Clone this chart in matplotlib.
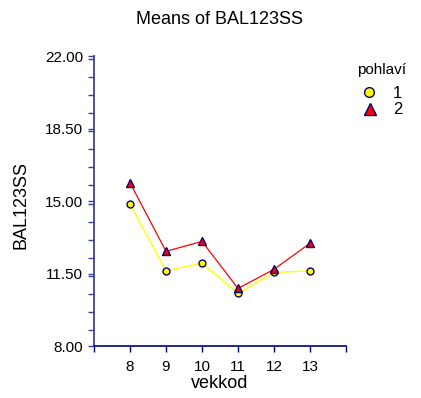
import matplotlib.pyplot as plt
from matplotlib.lines import Line2D
from matplotlib.ticker import MultipleLocator

plt.rcParams['font.family'] = ['Liberation Sans', 'DejaVu Sans']

# data
vekkod = [8, 9, 10, 11, 12, 13]
means_1 = [14.84, 11.63, 12.00, 10.54, 11.55, 11.63]
means_2 = [15.88, 12.57, 13.05, 10.78, 11.70, 12.96]
y_ticks = [8.00, 11.50, 15.00, 18.50, 22.00]
groups = ['1', '2']

W, H = 421, 398
axis_col = '#4040a0'
edge_col = '#000080'

fig = plt.figure(figsize=(W / 100, H / 100), dpi=100)
ax = fig.add_axes([94 / W, 52 / H, 252 / W, 290 / H])

ax.plot(vekkod, means_1, color='#ffff00', lw=1.0, marker='o', ms=5,
        mfc='#ffff00', mec=edge_col, mew=1, zorder=3)
ax.plot(vekkod, means_2, color='#ff0000', lw=0.9, marker='^', ms=6,
        mfc='#ff0000', mec=edge_col, mew=1, zorder=4)

ax.set_xlim(7, 14)
ax.set_ylim(8, 22)
ax.set_xticks(range(7, 15))
ax.set_xticklabels([''] + [str(v) for v in vekkod] + [''])
ax.set_yticks(y_ticks)
ax.set_yticklabels(['%.2f' % v for v in y_ticks])
ax.yaxis.set_minor_locator(MultipleLocator(0.875))

for s in ['top', 'right']:
    ax.spines[s].set_visible(False)
ax.spines['left'].set_color(axis_col)
ax.spines['bottom'].set_color(edge_col)
ax.spines['left'].set_linewidth(1.3)
ax.spines['bottom'].set_linewidth(1.2)
ax.tick_params(axis='y', which='both', colors=axis_col, labelcolor='black',
               length=4, width=1, labelsize=11, pad=4)
ax.tick_params(axis='x', colors=edge_col, labelcolor='black',
               length=4, width=1, labelsize=11, pad=6)

fig.text(220 / W, 1 - 383 / H, 'vekkod', ha='center', va='center', fontsize=13)
fig.text(21 / W, 1 - 205 / H, 'BAL123SS', ha='center', va='center',
         rotation=90, fontsize=13)
fig.text(220 / W, 1 - 19 / H, 'Means of BAL123SS', ha='center', va='center', fontsize=13)

# legend
fig.text(357 / W, 1 - 70 / H, 'pohlaví', ha='left', va='center', fontsize=11)
fig.add_artist(Line2D([369 / W], [1 - 92 / H], transform=fig.transFigure, ls='none',
                      marker='o', ms=7, mfc='#ffff00', mec=edge_col, mew=1))
fig.add_artist(Line2D([370 / W], [1 - 109 / H], transform=fig.transFigure, ls='none',
                      marker='^', ms=8, mfc='#ff0000', mec=edge_col, mew=1))
fig.text(393 / W, 1 - 93 / H, groups[0], ha='left', va='center', fontsize=12)
fig.text(393 / W, 1 - 110 / H, groups[1], ha='left', va='center', fontsize=12)

fig.savefig('out.png', dpi=100)
